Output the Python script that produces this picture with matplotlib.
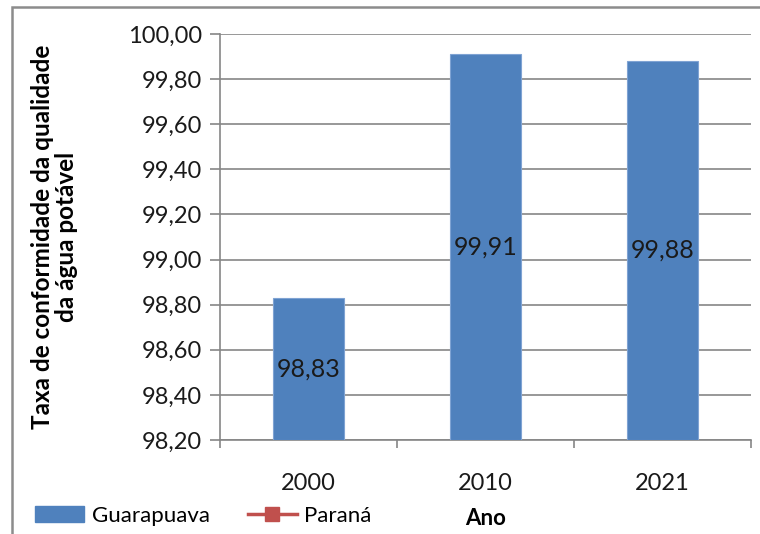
import matplotlib.pyplot as plt
from matplotlib.patches import Rectangle
from matplotlib.lines import Line2D
from matplotlib.ticker import FixedLocator

plt.rcParams['font.family'] = ['Lato', 'DejaVu Sans']

anos = ['2000', '2010', '2021']
guarapuava = [98.83, 99.91, 99.88]
y_ticks = [98.2, 98.4, 98.6, 98.8, 99.0, 99.2, 99.4, 99.6, 99.8, 100.0]

AZUL = '#4F81BD'
VERMELHO = '#C0504D'
CINZA = '#868686'

fig = plt.figure(figsize=(7.6, 5.34), dpi=100)
ax = fig.add_axes([0.2895, 0.176, 0.699, 0.7603])

x = range(len(anos))
base = y_ticks[0]
ax.bar(x, [v - base for v in guarapuava], bottom=base, width=0.4,
       color=AZUL, edgecolor='#7FA3D3', linewidth=0.8, zorder=3)

# rotulos no meio de cada barra
for i, v in enumerate(guarapuava):
    ax.text(i, (v + base) / 2, f'{v:.2f}'.replace('.', ','),
            ha='center', va='center', fontsize=18, color='#1a1a1a', zorder=4)

ax.set_xlim(-0.5, len(anos) - 0.5)
ax.set_ylim(y_ticks[0], y_ticks[-1])
ax.set_yticks(y_ticks)
ax.set_yticklabels([f'{t:.2f}'.replace('.', ',') for t in y_ticks])
ax.set_xticks(list(x))
ax.set_xticklabels(anos)
ax.xaxis.set_minor_locator(FixedLocator([-0.5, 0.5, 1.5, 2.5]))

ax.grid(axis='y', color=CINZA, linewidth=1.2, zorder=0)
for s in ['top', 'right']:
    ax.spines[s].set_visible(False)
for s in ['left', 'bottom']:
    ax.spines[s].set_color(CINZA)
    ax.spines[s].set_linewidth(1.2)

ax.tick_params(axis='y', length=7, color=CINZA, width=1.2, labelsize=17, pad=6, labelcolor='#1a1a1a')
ax.tick_params(axis='x', which='major', length=0, labelsize=17, pad=24, labelcolor='#1a1a1a')
ax.tick_params(axis='x', which='minor', length=6, color=CINZA, width=1.2)

ax.set_ylabel('Taxa de conformidade da qualidade\nda água potável',
              fontsize=17.5, fontweight='bold', labelpad=36, linespacing=1.05)
ax.set_xlabel('Ano', fontsize=16, fontweight='bold', labelpad=10)

handles = [Rectangle((0, 0), 1, 1, color=AZUL),
           Line2D([], [], color=VERMELHO, linewidth=2.5, marker='s', markersize=10)]
fig.legend(handles, ['Guarapuava', 'Paraná'], loc='lower left',
           bbox_to_anchor=(0.02, -0.022), ncol=2, frameon=False, fontsize=16,
           handlelength=2.2, handletextpad=0.35, columnspacing=1.7)

# moldura externa do grafico
fig.add_artist(Rectangle((0.0158, -0.02), 1.0, 1.007, transform=fig.transFigure,
                         fill=False, edgecolor='#8c8c8c', linewidth=1.8))

fig.savefig('out.png', dpi=100)
